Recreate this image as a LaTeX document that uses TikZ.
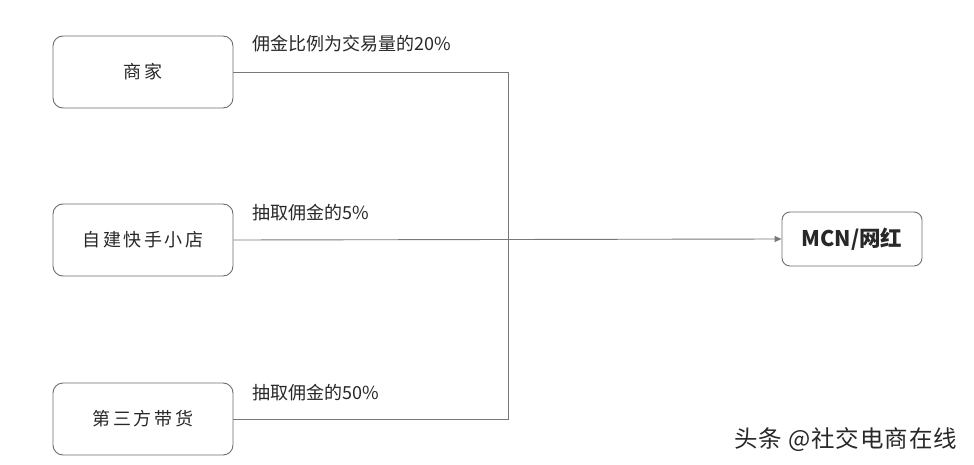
\documentclass[tikz,border=0pt]{standalone}
\usepackage{fontspec}
\setmainfont{Noto Sans CJK SC}
\newfontfamily\cjk{Noto Sans CJK SC}
\newfontfamily\cjksp[LetterSpace=14]{Noto Sans CJK SC}
\newfontfamily\cjkwm[LetterSpace=4]{Noto Sans CJK SC}
\usetikzlibrary{arrows.meta}
\definecolor{linegray}{RGB}{120,120,120}
\definecolor{boxgray}{RGB}{110,110,110}
\definecolor{txt}{RGB}{40,40,40}
\begin{document}
\begin{tikzpicture}[x=1pt,y=-1pt,
  srcbox/.style={draw=boxgray, line width=0.9pt, rounded corners=10pt, minimum width=180pt, minimum height=72pt, inner sep=0pt, font=\cjksp\fontsize{18}{21}\selectfont, text=txt},
  dstbox/.style={draw=boxgray, line width=0.9pt, rounded corners=8pt, minimum width=140pt, minimum height=54pt, inner sep=0pt, font=\cjk\bfseries\fontsize{21.5}{24}\selectfont, text=txt},
  conn/.style={draw=linegray, line width=0.9pt},
  lbl/.style={anchor=west, inner sep=0pt, font=\cjk\fontsize{18}{21}\selectfont, text=txt}]
\useasboundingbox (0,0) rectangle (974,465);
\fill[white] (0,0) rectangle (974,465);
\node[srcbox] (a) at (143,72) {商家};
\node[srcbox] (b) at (143,240) {自建快手小店};
\node[srcbox] (c) at (143,419) {第三方带货};
\node[dstbox] (m) at (852,239) {MCN/网红};
\coordinate (j1) at (508,72);
\coordinate (j3) at (508,419);
\draw[conn] (a.east) -- (j1) -- (j3) -- (c.east);
\draw[conn, -{Triangle[length=7pt,width=6pt]}] (b.east) -- (m.west);
\node[lbl] (la) at (252,44) {佣金比例为交易量的20\%};
\node[lbl] (lb) at (252,213) {抽取佣金的5\%};
\node[lbl] (lc) at (252,393) {抽取佣金的50\%};
\node[anchor=west, inner sep=0pt, font=\cjkwm\fontsize{23.5}{26}\selectfont, text=txt] (wm) at (734,440) {头条 @社交电商在线};
\end{tikzpicture}
\end{document}
